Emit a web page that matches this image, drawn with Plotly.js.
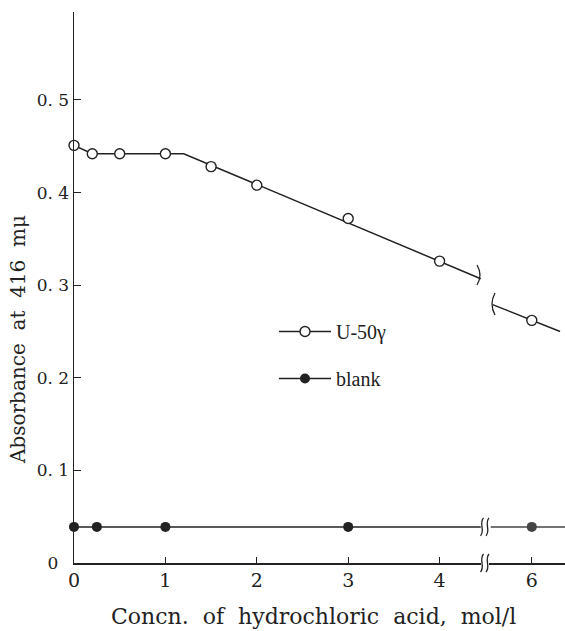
<!DOCTYPE html>
<html><head><meta charset="utf-8">
<script src="https://cdn.plot.ly/plotly-3.0.1.min.js"></script>
<style>html,body{margin:0;padding:0;background:#fff}</style>
</head><body><div id="chart" style="width:565px;height:631px"></div>
<script>
// ---- data ----
const uX = [0, 0.2, 0.5, 1.0, 1.5, 2.0, 3.0, 4.0, 6.0];
const uY = [0.451, 0.442, 0.442, 0.442, 0.428, 0.408, 0.372, 0.326, 0.262];
const blankX = [0, 0.25, 1.0, 3.0, 6.0];
const blankY = [0.039, 0.039, 0.039, 0.039, 0.039];
// drawn (fitted) lines
const uLineX1 = [0, 0.2, 1.2, 4.45];
const uLineY1 = [0.451, 0.442, 0.442, 0.307];
const uLineX2 = [5.57, 6.31];
const uLineY2 = [0.279, 0.250];
const blankLineX1 = [0, 4.45];
const blankLineY1 = [0.039, 0.039];
const blankLineX2 = [5.55, 6.4];
const blankLineY2 = [0.039, 0.039];
const xTicks1 = [0, 1, 2, 3, 4];
const xTicks2 = [6];
const yTicks = [0, 0.1, 0.2, 0.3, 0.4, 0.5];
const yTickText = ["0\u00a0\u00a0", "0. 1", "0. 2", "0. 3", "0. 4", "0. 5"];
const seriesNames = ["U-50\u03b3", "blank"];
const xTitle = "Concn.  of  hydrochloric  acid,  mol/l";
const yTitle = "Absorbance  at  416  m\u03bc";

const BREAK = 4.5;
const ink = "#222";
const SERIF = "DejaVu Serif, Liberation Serif, serif";
const LSERIF = "Liberation Serif, DejaVu Serif, serif";

// geometry
const W = 565, H = 631, ML = 74, MR = 0, MT = 12, MB = 68;
const PW = W - ML - MR, PH = H - MT - MB;
const left = v => v.map((x, i) => [x, i]).filter(p => p[0] < BREAK);
const right = v => v.map((x, i) => [x, i]).filter(p => p[0] > BREAK);
function sub(xs, ys, sel) { const s = sel(xs); return {x: s.map(p => p[0]), y: s.map(p => ys[p[1]])}; }

const uL = sub(uX, uY, left), uR = sub(uX, uY, right);
const bL = sub(blankX, blankY, left), bR = sub(blankX, blankY, right);

const openMk = {symbol: "circle", size: 10, color: "#fff", line: {width: 1.4, color: ink}};
const fillMk = {symbol: "circle", size: 10, color: "#222"};
const lineSt = {color: ink, width: 1.5};

const traces = [
  {x: uLineX1, y: uLineY1, xaxis: "x", yaxis: "y", mode: "lines", line: lineSt, showlegend: false, hoverinfo: "skip"},
  {x: uLineX2, y: uLineY2, xaxis: "x2", yaxis: "y", mode: "lines", line: lineSt, showlegend: false, hoverinfo: "skip"},
  {x: blankLineX1, y: blankLineY1, xaxis: "x", yaxis: "y", mode: "lines", line: lineSt, showlegend: false, hoverinfo: "skip"},
  {x: blankLineX2, y: blankLineY2, xaxis: "x2", yaxis: "y", mode: "lines", line: {color: "#444", width: 1.5}, showlegend: false, hoverinfo: "skip"},
  {x: uL.x, y: uL.y, xaxis: "x", yaxis: "y", mode: "markers", marker: openMk, showlegend: false, cliponaxis: false},
  {x: uR.x, y: uR.y, xaxis: "x2", yaxis: "y", mode: "markers", marker: openMk, showlegend: false, cliponaxis: false},
  {x: bL.x, y: bL.y, xaxis: "x", yaxis: "y", mode: "markers", marker: fillMk, showlegend: false, cliponaxis: false},
  {x: bR.x, y: bR.y, xaxis: "x2", yaxis: "y", mode: "markers", marker: {symbol: "circle", size: 10, color: "#444"}, showlegend: false, cliponaxis: false},
  // legend entries
  {x: [null], y: [null], xaxis: "x", yaxis: "y", mode: "lines+markers", name: seriesNames[0], line: lineSt,
   marker: openMk, legendgroup: "a"},
  {x: [null], y: [null], xaxis: "x", yaxis: "y", mode: "lines+markers", name: seriesNames[1], line: lineSt,
   marker: fillMk, legendgroup: "b"}
];

// pixel -> paper helpers for break decorations
const px = p => (p - ML) / PW;
const py = p => (H - MB - p) / PH;
function sCurve(cx, cy, h) {
  const t = cy - h / 2, b = cy + h / 2;
  return `M ${px(cx + 1.5)} ${py(t)} C ${px(cx - 3.5)} ${py(cy - h / 6)} ${px(cx + 3.5)} ${py(cy + h / 6)} ${px(cx - 1.5)} ${py(b)}`;
}
function bracket(cx, cy, h, dir) {
  const t = cy - h / 2, b = cy + h / 2;
  return `M ${px(cx - 2 * dir)} ${py(t)} Q ${px(cx + 4 * dir)} ${py(cy)} ${px(cx - 2 * dir)} ${py(b)}`;
}
const shp = path => ({type: "path", xref: "paper", yref: "paper", path: path, line: {color: ink, width: 1.3}});
const axisY = H - MB;
const blankPy = axisY - 0.039 * PH / 0.595;
const shapes = [
  shp(sCurve(482, axisY, 18)), shp(sCurve(487.5, axisY, 18)),
  shp(sCurve(482, blankPy, 18)), shp(sCurve(487.5, blankPy, 18)),
  shp(bracket(479, 275, 20, 1)), shp(bracket(493, 304, 22, -1))
];

const layout = {
  width: W, height: H,
  margin: {l: ML, r: MR, t: MT, b: MB, pad: 0},
  paper_bgcolor: "#fff", plot_bgcolor: "#fff",
  font: {family: SERIF, color: ink, size: 18},
  showlegend: true,
  legend: {x: px(274), y: py(312), xanchor: "left", yanchor: "top", bgcolor: "rgba(0,0,0,0)",
           font: {family: LSERIF, size: 20, color: ink}, traceorder: "grouped", tracegroupgap: 18, itemwidth: 52},
  xaxis: {domain: [0, 0.8293], range: [0, 4.455], showgrid: false, zeroline: false, showline: true, linecolor: ink, linewidth: 1.5,
          ticks: "inside", ticklen: 6, tickcolor: ink, tickmode: "array", tickvals: xTicks1, ticktext: xTicks1.map(String),
          tickfont: {family: SERIF, size: 19}, anchor: "y", fixedrange: true},
  xaxis2: {domain: [0.8456, 1], range: [5.533, 6.364], showgrid: false, zeroline: false, showline: true, linecolor: ink, linewidth: 1.5,
           ticks: "inside", ticklen: 6, tickcolor: ink, tickmode: "array", tickvals: xTicks2, ticktext: xTicks2.map(String),
           tickfont: {family: SERIF, size: 19}, anchor: "y", fixedrange: true},
  yaxis: {range: [0, 0.595], showgrid: false, zeroline: false, showline: true, linecolor: ink, linewidth: 1.5,
          ticks: "inside", ticklen: 7, tickcolor: ink, tickmode: "array", tickvals: yTicks, ticktext: yTickText,
          tickfont: {family: SERIF, size: 17}, anchor: "x", fixedrange: true},
  shapes: shapes,
  annotations: [
    {text: xTitle, xref: "paper", yref: "paper", x: px(313), y: py(616), xanchor: "center", yanchor: "middle",
     showarrow: false, font: {family: SERIF, size: 22, color: ink}},
    {text: yTitle, xref: "paper", yref: "paper", x: px(18), y: py(340), xanchor: "center", yanchor: "middle",
     textangle: -90, showarrow: false, font: {family: SERIF, size: 20, color: ink}}
  ]
};

Plotly.newPlot("chart", traces, layout, {displayModeBar: false, staticPlot: true});
</script></body></html>
